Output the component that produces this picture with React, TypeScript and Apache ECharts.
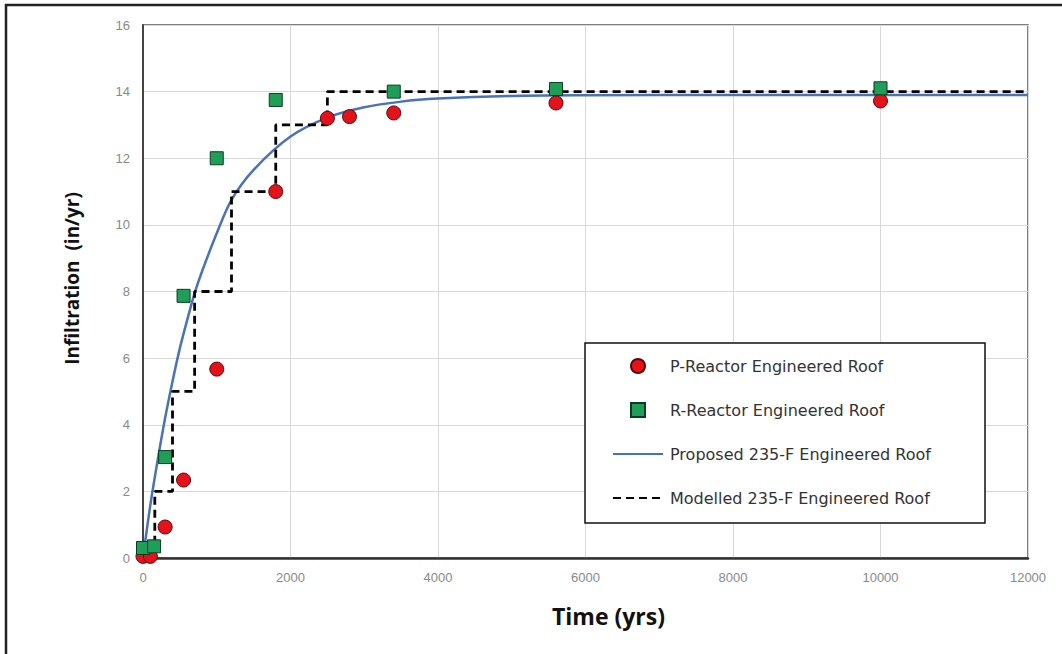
import React, { useEffect, useRef } from "react";
import * as echarts from "echarts";

// Time (yrs) and infiltration (in/yr)
const pReactorTime = [0, 100, 300, 550, 1000, 1800, 2500, 2800, 3400, 5600, 10000];
const pReactorValue = [0.05, 0.05, 0.93, 2.34, 5.67, 11.0, 13.2, 13.25, 13.36, 13.66, 13.72];

const rReactorTime = [0, 150, 300, 550, 1000, 1800, 3400, 5600, 10000];
const rReactorValue = [0.3, 0.35, 3.03, 7.87, 12.0, 13.75, 14.0, 14.08, 14.1];

const proposedTime = [0, 100, 200, 300, 400, 500, 600, 700, 800, 1000, 1200, 1500, 2000, 2500, 3000, 3500, 4000, 5000, 6000, 8000, 10000, 12000];
const proposedValue = [0, 1.6, 2.95, 4.2, 5.3, 6.3, 7.15, 7.95, 8.6, 9.75, 10.75, 11.65, 12.65, 13.22, 13.53, 13.7, 13.79, 13.87, 13.89, 13.9, 13.9, 13.9];

const modelledTime = [0, 160, 160, 400, 400, 700, 700, 1200, 1200, 1800, 1800, 2500, 2500, 12000];
const modelledValue = [0, 0, 2, 2, 5, 5, 8, 8, 11, 11, 13, 13, 14, 14];

const seriesNames = [
  "P-Reactor Engineered Roof",
  "R-Reactor Engineered Roof",
  "Proposed 235-F Engineered Roof",
  "Modelled 235-F Engineered Roof",
];

const xTicks = [0, 2000, 4000, 6000, 8000, 10000, 12000];
const yTicks = [0, 2, 4, 6, 8, 10, 12, 14, 16];

const zip = (xs: number[], ys: number[]) => xs.map((x, i) => [x, ys[i]]);

export default function App() {
  const ref = useRef<HTMLDivElement>(null);

  useEffect(() => {
    if (!ref.current) return;
    const chart = echarts.init(ref.current, undefined, { renderer: "svg" });
    const tickFont = "'Liberation Sans', sans-serif";
    chart.setOption({
      animation: false,
      backgroundColor: "#ffffff",
      grid: {
        left: 143,
        right: 34,
        top: 25,
        bottom: 96,
        show: true,
        borderColor: "#555",
        borderWidth: 1.5,
      },
      xAxis: {
        type: "value",
        min: xTicks[0],
        max: xTicks[xTicks.length - 1],
        interval: 2000,
        name: "Time (yrs)",
        nameLocation: "middle",
        nameGap: 46,
        nameTextStyle: {
          fontFamily: "'Open Sans', sans-serif",
          fontWeight: "bold",
          fontSize: 23,
          color: "#111",
          padding: [0, 0, 0, 46],
        },
        axisLine: { show: true, lineStyle: { color: "#333", width: 2.5 } },
        axisTick: { show: false },
        axisLabel: {
          color: "#8a8a8a",
          fontSize: 13,
          fontFamily: tickFont,
          margin: 13,
          formatter: (v: number) => String(v),
        },
        splitLine: { show: true, lineStyle: { color: "#d9d9d9", width: 1 } },
      },
      yAxis: {
        type: "value",
        min: yTicks[0],
        max: yTicks[yTicks.length - 1],
        interval: 2,
        name: "Infiltration  (in/yr)",
        nameLocation: "middle",
        nameGap: 62,
        nameTextStyle: {
          fontFamily: "'Open Sans', sans-serif",
          fontWeight: "bold",
          fontSize: 19,
          color: "#111",
          padding: [0, 0, 0, 26],
        },
        axisLine: { show: true, lineStyle: { color: "#444", width: 2 } },
        axisTick: { show: false },
        axisLabel: {
          color: "#8a8a8a",
          fontSize: 13,
          fontFamily: tickFont,
          margin: 13,
          formatter: (v: number) => String(v),
        },
        splitLine: { show: true, lineStyle: { color: "#d9d9d9", width: 1 } },
      },
      legend: {
        orient: "vertical",
        left: 607,
        top: 353,
        z: 10,
        itemWidth: 50,
        itemHeight: 14,
        itemGap: 28,
        symbolKeepAspect: true,
        textStyle: {
          fontFamily: "'DejaVu Sans', sans-serif",
          fontSize: 16,
          color: "#333",
          lineHeight: 16,
          padding: [0, 0, 0, 2],
        },
        data: [
          { name: seriesNames[0], icon: "circle" },
          { name: seriesNames[1], icon: "path://M0,0H10V10H0Z" },
          { name: seriesNames[2], itemStyle: { opacity: 0 } },
          { name: seriesNames[3], itemStyle: { opacity: 0 } },
        ],
      },
      graphic: [
        {
          type: "rect",
          z: 5,
          shape: { x: 585, y: 343, width: 400, height: 180 },
          style: { fill: "#ffffff", stroke: "#111", lineWidth: 1.5 },
        },
        {
          type: "rect",
          z: 0,
          shape: { x: 6, y: 5, width: 1100, height: 700 },
          style: { fill: "none", stroke: "#222", lineWidth: 2.5 },
        },
      ],
      series: [
        {
          name: seriesNames[2],
          type: "line",
          data: zip(proposedTime, proposedValue),
          smooth: 0.3,
          symbol: "circle",
          showSymbol: false,
          lineStyle: { color: "#4a72b8", width: 2.5 },
          itemStyle: { color: "#4a72b8" },
          z: 2,
        },
        {
          name: seriesNames[3],
          type: "line",
          data: zip(modelledTime, modelledValue),
          symbol: "circle",
          showSymbol: false,
          lineStyle: { color: "#000", width: 2.8, type: [8, 5] },
          itemStyle: { color: "#000" },
          z: 3,
        },
        {
          name: seriesNames[0],
          type: "scatter",
          data: zip(pReactorTime, pReactorValue),
          symbol: "circle",
          symbolSize: 14,
          itemStyle: { color: "#e3121b", borderColor: "#5a0a0a", borderWidth: 1, opacity: 1 },
          z: 4,
        },
        {
          name: seriesNames[1],
          type: "scatter",
          data: zip(rReactorTime, rReactorValue),
          symbol: "rect",
          symbolSize: 13,
          itemStyle: { color: "#1f9e5a", borderColor: "#0d3b22", borderWidth: 1, opacity: 1 },
          z: 4,
        },
      ],
    });
    return () => chart.dispose();
  }, []);

  return (
    <div
      ref={ref}
      style={{ position: "fixed", left: 0, top: 0, width: 1062, height: 654 }}
    />
  );
}
